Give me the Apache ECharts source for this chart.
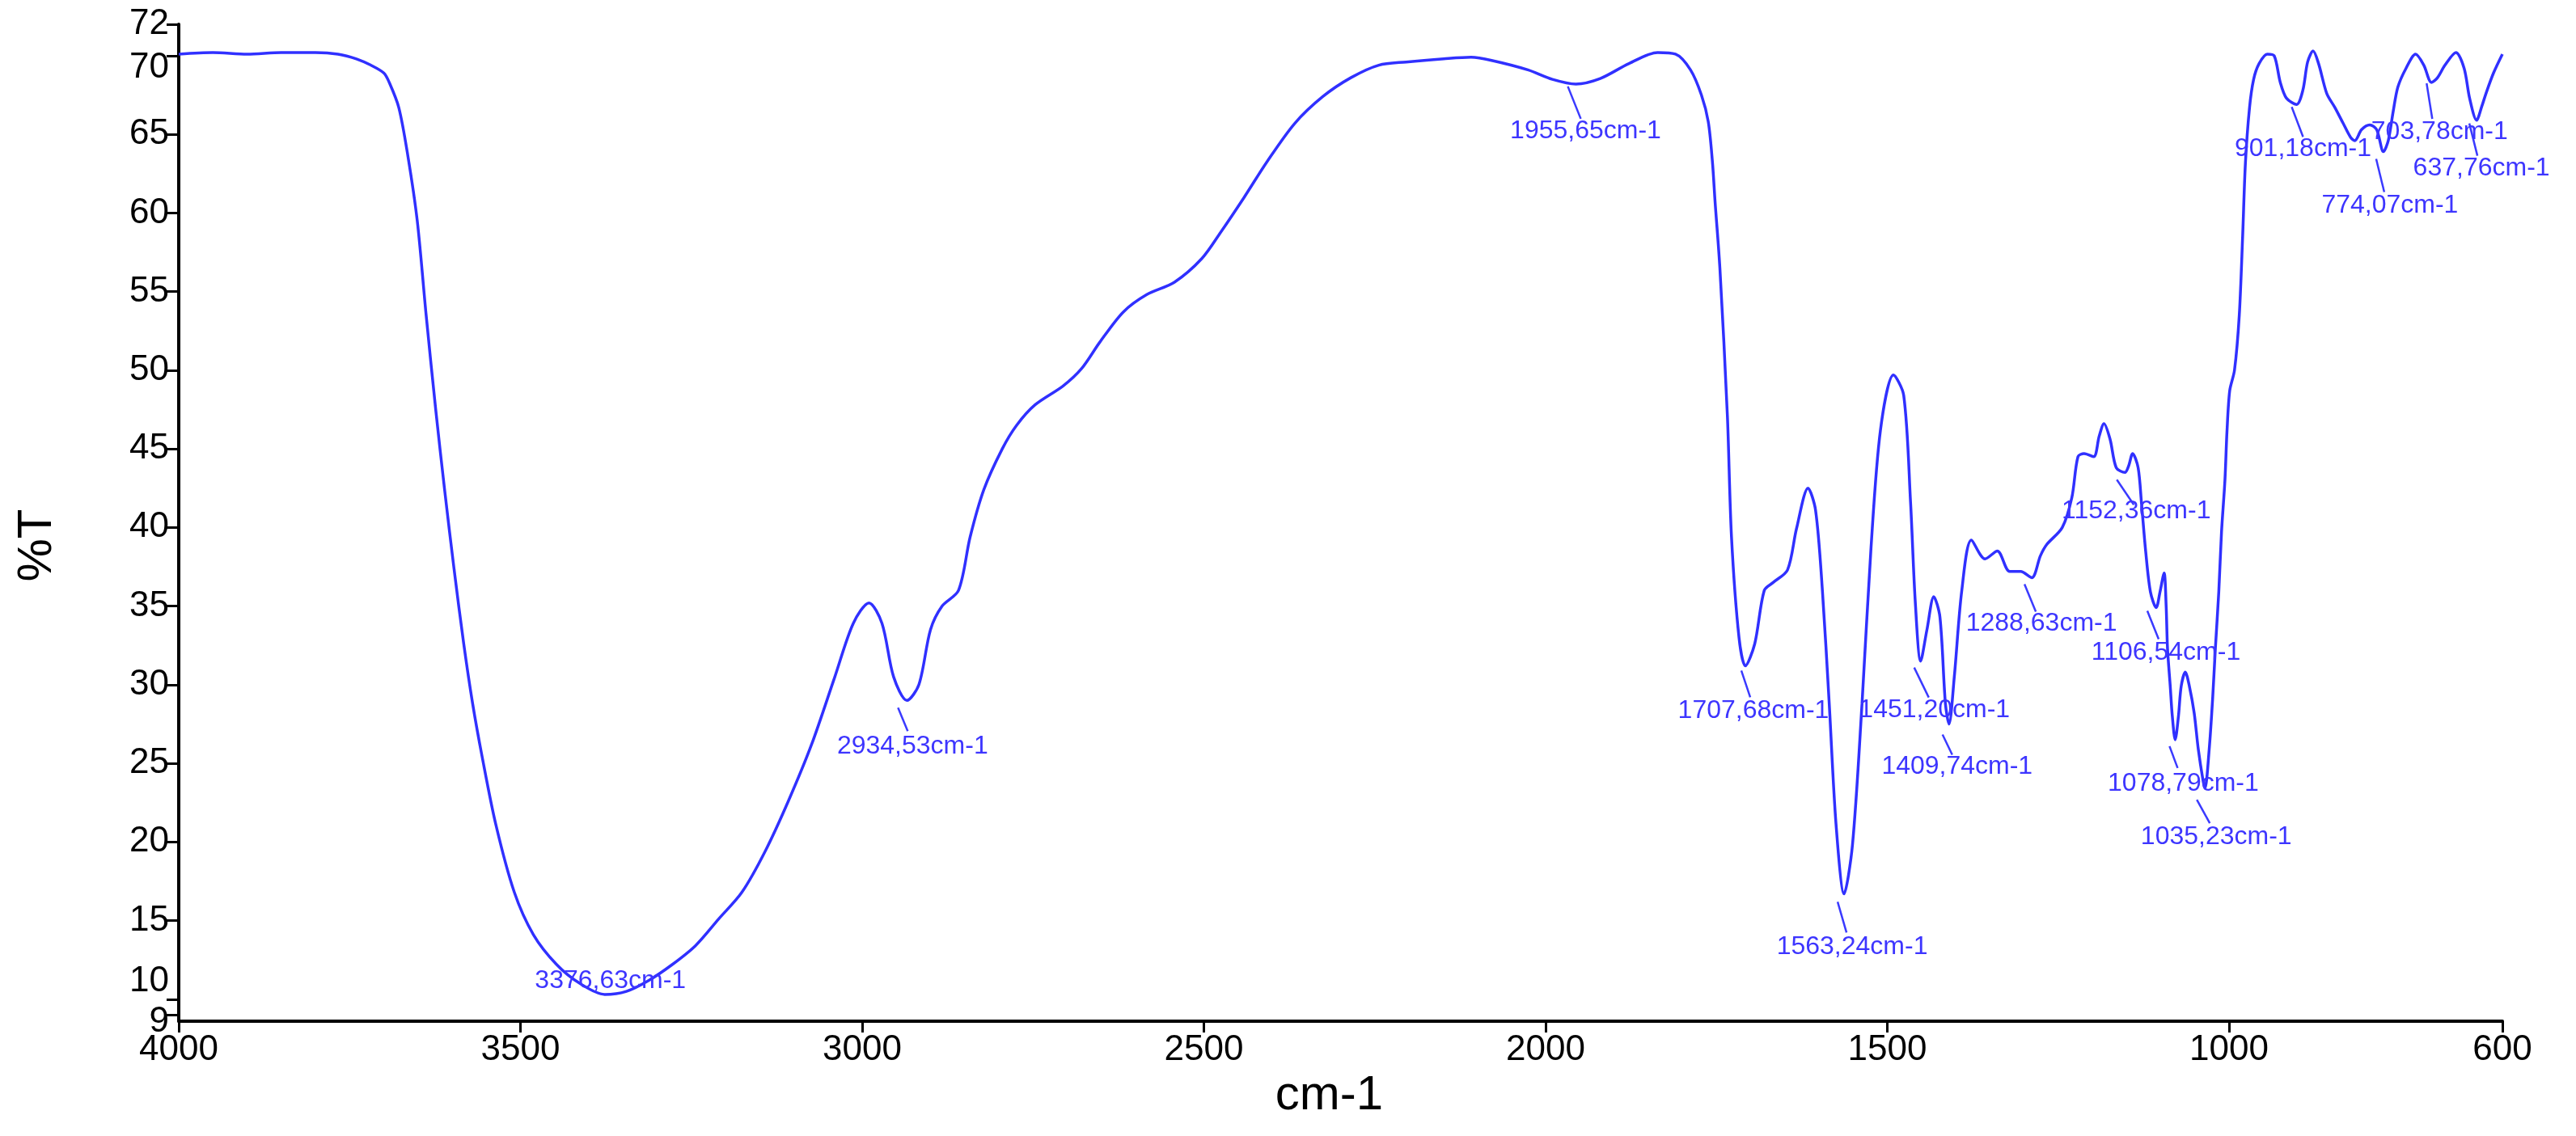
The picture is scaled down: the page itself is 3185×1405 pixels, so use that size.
<!DOCTYPE html>
<html><head><meta charset="utf-8">
<script src="https://cdn.jsdelivr.net/npm/echarts@6/dist/echarts.min.js"></script>
<style>html,body{margin:0;padding:0;background:#fff}#c{width:3185px;height:1405px}</style>
</head><body><div id="c"></div>
<script>
// ---- DATA ----
const wavenumbers = [
  4000,3950,3900,3850,3800,3767,3740,3719,3700,3692,3678,3665,3651,3638,3624,3611,3597,3583,3570,3556,
  3536,3509,3481,3447,3413,3376.63,3345,3312,3278,3244,3210,3176,3142,3108,3074,3040,3013,2990,2971,2954,
  2934.53,2917,2900,2883,2859,2842,2822,2795,2774,2747,2706,2679,2652,2618,2584,2543,2503,2475,2441,2407,
  2367,2326,2285,2244,2204,2149,2109,2079,2026,1990,1955.65,1920,1878,1836,1810,1788,1772,1762,1756,1752,
  1745,1734,1728,1717,1707.68,1694,1680,1667,1646,1633,1616,1605,1595,1585,1575,1563.24,1551,1537,1524,1510,
  1491,1476,1466,1459,1451.2,1442,1432,1423,1415,1409.74,1402,1391,1377,1357,1339,1321,1305,1288.63,1276,1267,
  1244,1230,1221,1212,1198,1190,1183,1174,1165,1152.36,1147,1141,1133,1128,1122,1115,1106.54,1101,1095,1092,
  1090,1086,1083,1078.79,1074,1070,1064,1058,1051,1045,1038,1035.23,1029,1024,1020,1015,1011,1006,1003,999,
  992,985,980,976,970,964,956,944,934,925,916,901.18,892,885,877,869,857,845,833,822,
  816,806,794,784,774.07,767,760,753,741,727,715,703.78,695,684,668,656,648,637.76,630,624,
  613,600
];
const transmittance = [
  70.1,70.2,70.1,70.2,70.2,70.1,69.8,69.4,68.9,68.3,66.7,63.7,59.5,53.5,47.5,42.4,37.3,32.6,28.8,25.4,
  21.1,16.8,14.1,12.2,11.0,10.3,10.5,11.2,12.2,13.4,15.1,16.8,19.4,22.6,26.2,30.5,33.9,35.2,33.9,30.5,
  29.0,30.0,33.5,35.0,36.0,39.4,42.4,45.0,46.5,47.8,49.0,50.1,51.8,53.7,54.8,55.6,57.1,58.8,61.0,63.3,
  65.7,67.4,68.6,69.4,69.6,69.8,69.9,69.7,69.1,68.5,68.2,68.55,69.5,70.2,70.1,69.1,67.5,65.8,63.3,60.7,
  56.5,47.1,39.4,33.0,31.2,32.6,36.0,36.5,37.3,39.9,42.5,41.1,36.0,28.8,21.1,16.7,19.8,28.8,38.6,46.2,
  49.7,48.4,41.6,35.2,31.5,33.5,35.6,34.3,28.8,27.5,30.5,36.0,39.2,38.0,38.5,37.2,37.2,36.8,38.2,38.9,
  40.0,41.9,44.5,44.7,44.5,45.8,46.6,45.6,43.8,43.5,43.9,44.7,43.8,41.5,38.5,35.9,34.9,35.9,37.1,35.0,
  32.3,29.9,28.0,26.5,28.0,29.9,30.8,29.9,28.2,25.9,23.9,23.4,25.9,29.1,32.3,35.9,39.7,43.0,46.1,48.7,
  50.0,53.5,58.6,63.2,66.7,68.5,69.5,70.1,70.0,68.3,67.3,66.9,67.8,69.6,70.3,69.5,67.6,66.7,65.7,64.8,
  64.6,65.3,65.6,65.3,63.9,64.6,66.4,68.0,69.2,70.1,69.4,68.3,68.6,69.4,70.2,69.2,67.3,65.9,66.8,67.6,
  68.9,70.1
];
const peakWavenumbers = [3376.63,2934.53,1955.65,1707.68,1563.24,1451.2,1409.74,1288.63,1152.36,1106.54,1078.79,1035.23,901.18,774.07,703.78,637.76];
const xTicks = [4000,3500,3000,2500,2000,1500,1000,600];
const yTicks = [9,10,15,20,25,30,35,40,45,50,55,60,65,70,72];
const xTitle = 'cm-1';
const yTitle = '%T';

// ---- LAYOUT (pixel offsets of annotation leader & text relative to the peak point) ----
const peakLayout = [
  {line:null,            text:[7,-17]},
  {line:[-11,9,1,38],    text:[7,57]},
  {line:[-10,3,6,43],    text:[12,58]},
  {line:[-5,6,6,39],     text:[10,56]},
  {line:[-8,10,3,48],    text:[10,66]},
  {line:[-8,8,10,45],    text:[17,61]},
  {line:[-8,13,4,38],    text:[10,53]},
  {line:[-9,8,5,42],     text:[12,57]},
  {line:[-10,9,11,40],   text:[14,48]},
  {line:[-11,4,3,39],    text:[12,56]},
  {line:[-7,8,3,35],     text:[10,54]},
  {line:[-10,14,6,43],   text:[14,60]},
  {line:[-6,3,8,40],     text:[8,55]},
  {line:[-9,9,1,50],     text:[8,67]},
  {line:[-6,1,1,45],     text:[10,61]},
  {line:[-9,4,1,44],     text:[6,60]}
];

const spectrum = wavenumbers.map((w,i)=>[w, transmittance[i]]);
const peaks = peakWavenumbers.map((w,i)=>[w, transmittance[wavenumbers.indexOf(w)], i]);
const fmtPeak = w => w.toFixed(2).replace('.', ',') + 'cm-1';

const FONT = 'Liberation Sans, Arial, sans-serif';
const chart = echarts.init(document.getElementById('c'), null, {renderer:'canvas'});
chart.setOption({
  animation:false,
  backgroundColor:'#ffffff',
  grid:{left:221, right:91, top:30, bottom:142, containLabel:false},
  xAxis:{
    type:'value', inverse:true, min:600, max:4000,
    name:xTitle, nameLocation:'middle', nameGap:60,
    nameTextStyle:{fontSize:60, color:'#000', fontFamily:FONT, padding:[0,28,0,0]},
    axisLine:{show:true, lineStyle:{color:'#000', width:4}},
    axisTick:{show:true, customValues:xTicks, length:14, inside:false, lineStyle:{color:'#000', width:3}},
    axisLabel:{show:true, customValues:xTicks, fontSize:44, color:'#000', fontFamily:FONT, margin:14,
      formatter:function(v){ return String(v); }},
    splitLine:{show:false}
  },
  yAxis:{
    type:'value', min:8.6, max:72,
    name:yTitle, nameLocation:'middle', nameGap:145, nameRotate:90,
    nameTextStyle:{fontSize:60, color:'#000', fontFamily:FONT, padding:[0,56,0,0]},
    axisLine:{show:true, lineStyle:{color:'#000', width:4}},
    axisTick:{show:true, customValues:yTicks, length:15, inside:false, lineStyle:{color:'#000', width:3}},
    axisLabel:{show:true, customValues:yTicks, fontSize:44, color:'#000', fontFamily:FONT, margin:12,
      formatter:function(v){
        if (v === 10) return '{up|10}';
        if (v === 9) return '{dn|9}';
        if (v === 70) return '{dn2|70}';
        return String(v);
      },
      rich:{
        up:{fontSize:44, fontFamily:FONT, color:'#000', padding:[0,0,44,0]},
        dn:{fontSize:44, fontFamily:FONT, color:'#000', padding:[18,0,0,0]},
        dn2:{fontSize:44, fontFamily:FONT, color:'#000', padding:[30,0,0,0]}
      }
    },
    splitLine:{show:false}
  },
  series:[
    {
      type:'line', data:spectrum, showSymbol:false, smooth:0.3,
      lineStyle:{color:'#3030ff', width:3.5}, z:2
    },
    {
      type:'custom', data:peaks, z:3, clip:false,
      renderItem:function(params, api){
        const p = api.coord([api.value(0), api.value(1)]);
        const idx = api.value(2);
        const L = peakLayout[idx];
        const children = [];
        if (L.line){
          children.push({type:'line', shape:{x1:p[0]+L.line[0], y1:p[1]+L.line[1], x2:p[0]+L.line[2], y2:p[1]+L.line[3]},
            style:{stroke:'#3a3aff', lineWidth:2.5}});
        }
        children.push({type:'text', x:p[0]+L.text[0], y:p[1]+L.text[1],
          style:{text:fmtPeak(peakWavenumbers[idx]), fill:'#3d35ff', font:'32px ' + FONT, align:'center', verticalAlign:'middle'}});
        return {type:'group', children:children};
      }
    }
  ]
});
</script>
</body></html>
